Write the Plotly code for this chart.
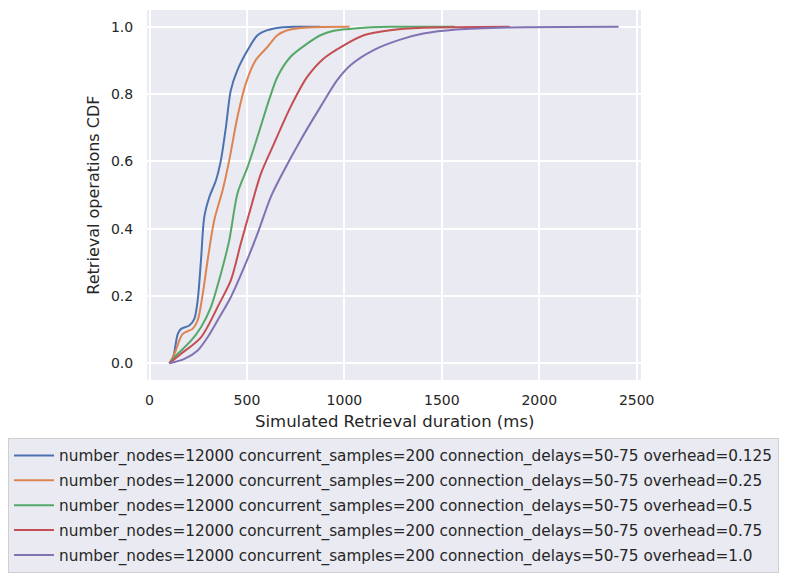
import plotly.graph_objects as go

overheads = ["0.125", "0.25", "0.5", "0.75", "1.0"]
colors = ["#4c72b0", "#dd8452", "#55a868", "#c44e52", "#8172b3"]

x_0125 = [102, 119, 145, 162, 204, 230, 247, 264, 281, 307, 341, 366, 392, 417, 451, 503, 554, 605, 673, 741, 877]
y_0125 = [0, 0.013, 0.087, 0.102, 0.112, 0.132, 0.187, 0.306, 0.435, 0.494, 0.544, 0.603, 0.702, 0.811, 0.871, 0.930, 0.975, 0.990, 0.998, 1.0, 1.0]

x_025 = [102, 128, 170, 221, 247, 273, 298, 332, 375, 409, 451, 494, 545, 605, 656, 707, 809, 1027]
y_025 = [0, 0.028, 0.087, 0.102, 0.127, 0.206, 0.306, 0.425, 0.514, 0.603, 0.732, 0.831, 0.901, 0.940, 0.975, 0.990, 0.998, 1.0]

x_05 = [102, 145, 213, 264, 315, 366, 409, 451, 503, 554, 613, 656, 724, 809, 877, 945, 1065, 1235, 1567]
y_05 = [0, 0.028, 0.067, 0.107, 0.167, 0.266, 0.365, 0.504, 0.583, 0.673, 0.782, 0.851, 0.911, 0.950, 0.975, 0.988, 0.996, 1.0, 1.0]

x_075 = [102, 162, 264, 358, 417, 468, 511, 571, 639, 724, 809, 894, 997, 1099, 1235, 1405, 1848]
y_075 = [0, 0.028, 0.077, 0.177, 0.246, 0.355, 0.444, 0.563, 0.653, 0.762, 0.851, 0.906, 0.945, 0.975, 0.990, 0.997, 1.0]

x_10 = [102, 179, 247, 298, 349, 417, 486, 554, 622, 690, 775, 877, 962, 1031, 1150, 1286, 1405, 1576, 1831, 2407]
y_10 = [0, 0.013, 0.038, 0.077, 0.127, 0.196, 0.286, 0.385, 0.494, 0.573, 0.663, 0.762, 0.841, 0.886, 0.931, 0.962, 0.980, 0.992, 0.998, 1.0]

series = [(x_0125, y_0125), (x_025, y_025), (x_05, y_05), (x_075, y_075), (x_10, y_10)]

fig = go.Figure()
for i, ((xs, ys), oh, c) in enumerate(zip(series, overheads, colors)):
    fig.add_trace(go.Scatter(
        x=xs, y=ys, mode="lines", legendgroup=str(i),
        name="number_nodes=12000 concurrent_samples=200 connection_delays=50-75 overhead=" + oh,
        line=dict(color=c, width=2, shape="spline", smoothing=0.8),
    ))

# page body adds an 8px margin, so the figure is 8px smaller on each axis
fig.update_layout(
    width=779, height=568,
    margin=dict(l=139, r=146, t=2, b=196, autoexpand=False),
    paper_bgcolor="white",
    plot_bgcolor="#eaeaf2",
    font=dict(family="DejaVu Sans", size=14, color="#262626"),
    showlegend=True,
    legend=dict(
        xref="container", yref="container",
        x=0.0, y=1 - 430 / 568, xanchor="left", yanchor="top",
        bgcolor="#eaeaf2", bordercolor="#d0d0d0", borderwidth=1,
        font=dict(size=15.3), tracegroupgap=2, itemwidth=40,
    ),
    annotations=[
        dict(text="Simulated Retrieval duration (ms)", xref="paper", yref="paper",
             x=0.5, y=-0.111, xanchor="center", yanchor="middle",
             showarrow=False, font=dict(size=16.5)),
        dict(text="Retrieval operations CDF", xref="paper", yref="paper",
             x=-0.110, y=0.5, xanchor="center", yanchor="middle", textangle=-90,
             showarrow=False, font=dict(size=16)),
    ],
)
fig.update_xaxes(
    range=[-13, 2522], tickvals=[0, 500, 1000, 1500, 2000, 2500],
    gridcolor="white", gridwidth=1.5, zeroline=False, showline=False,
    ticks="outside", ticklen=7, tickcolor="rgba(0,0,0,0)", tickfont=dict(size=14),
)
fig.update_yaxes(
    range=[-0.05, 1.05], tickvals=[0, 0.2, 0.4, 0.6, 0.8, 1.0], tickformat=".1f",
    gridcolor="white", gridwidth=1.5, zeroline=False, showline=False,
    ticks="outside", ticklen=10, tickcolor="rgba(0,0,0,0)", tickfont=dict(size=14),
)

fig.write_html("out.html")
